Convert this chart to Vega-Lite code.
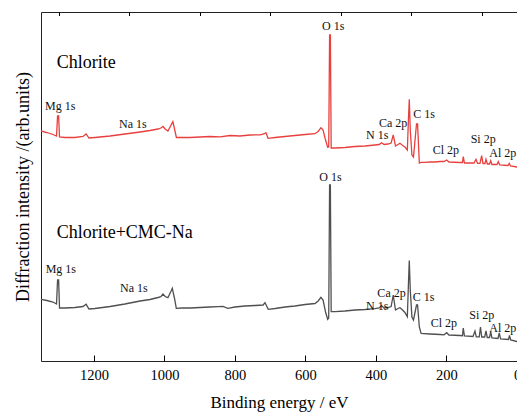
{
  "$schema": "https://vega.github.io/schema/vega-lite/v6.json",
  "autosize": {"type": "none"},
  "width": 476,
  "height": 349,
  "padding": {"left": 41, "top": 12, "right": 0, "bottom": 51},
  "background": "white",
  "config": {
    "view": {"stroke": "#222222", "strokeWidth": 1},
    "font": "Liberation Serif",
    "axis": {"grid": false, "domain": false, "labelFont": "Liberation Serif", "titleFont": "Liberation Serif", "titleFontWeight": "normal", "labelColor": "#000", "titleColor": "#000", "tickColor": "#000", "tickWidth": 1}
  },
  "datasets": {
    "spectra": [
      {"sample": "Chlorite", "energy": 1350, "intensity": 230},
      {"sample": "Chlorite", "energy": 1333, "intensity": 228.5},
      {"sample": "Chlorite", "energy": 1316, "intensity": 226.5},
      {"sample": "Chlorite", "energy": 1306, "intensity": 225},
      {"sample": "Chlorite", "energy": 1303, "intensity": 245},
      {"sample": "Chlorite", "energy": 1300, "intensity": 245},
      {"sample": "Chlorite", "energy": 1297.5, "intensity": 224},
      {"sample": "Chlorite", "energy": 1282, "intensity": 223.5},
      {"sample": "Chlorite", "energy": 1254, "intensity": 223.5},
      {"sample": "Chlorite", "energy": 1231, "intensity": 224.5},
      {"sample": "Chlorite", "energy": 1222, "intensity": 227},
      {"sample": "Chlorite", "energy": 1214, "intensity": 223},
      {"sample": "Chlorite", "energy": 1197, "intensity": 223.5},
      {"sample": "Chlorite", "energy": 1154, "intensity": 225},
      {"sample": "Chlorite", "energy": 1112, "intensity": 227},
      {"sample": "Chlorite", "energy": 1069, "intensity": 229},
      {"sample": "Chlorite", "energy": 1041, "intensity": 230.5},
      {"sample": "Chlorite", "energy": 1018, "intensity": 232},
      {"sample": "Chlorite", "energy": 1010, "intensity": 233},
      {"sample": "Chlorite", "energy": 1004, "intensity": 234.5},
      {"sample": "Chlorite", "energy": 998, "intensity": 232},
      {"sample": "Chlorite", "energy": 990, "intensity": 230},
      {"sample": "Chlorite", "energy": 981, "intensity": 236},
      {"sample": "Chlorite", "energy": 976, "intensity": 239.3},
      {"sample": "Chlorite", "energy": 970, "intensity": 230},
      {"sample": "Chlorite", "energy": 966, "intensity": 223.5},
      {"sample": "Chlorite", "energy": 950, "intensity": 223.5},
      {"sample": "Chlorite", "energy": 927, "intensity": 223.5},
      {"sample": "Chlorite", "energy": 899, "intensity": 224},
      {"sample": "Chlorite", "energy": 871, "intensity": 224.5},
      {"sample": "Chlorite", "energy": 842, "intensity": 224.2},
      {"sample": "Chlorite", "energy": 814, "intensity": 225.5},
      {"sample": "Chlorite", "energy": 786, "intensity": 225},
      {"sample": "Chlorite", "energy": 757, "intensity": 226},
      {"sample": "Chlorite", "energy": 729, "intensity": 226.2},
      {"sample": "Chlorite", "energy": 718, "intensity": 227},
      {"sample": "Chlorite", "energy": 712, "intensity": 228.3},
      {"sample": "Chlorite", "energy": 706, "intensity": 222.7},
      {"sample": "Chlorite", "energy": 686, "intensity": 223.5},
      {"sample": "Chlorite", "energy": 658, "intensity": 224.5},
      {"sample": "Chlorite", "energy": 630, "intensity": 225.5},
      {"sample": "Chlorite", "energy": 601, "intensity": 226.5},
      {"sample": "Chlorite", "energy": 573, "intensity": 227.3},
      {"sample": "Chlorite", "energy": 564, "intensity": 229.5},
      {"sample": "Chlorite", "energy": 556, "intensity": 233.3},
      {"sample": "Chlorite", "energy": 550, "intensity": 231},
      {"sample": "Chlorite", "energy": 543, "intensity": 221},
      {"sample": "Chlorite", "energy": 537, "intensity": 213.7},
      {"sample": "Chlorite", "energy": 534, "intensity": 214},
      {"sample": "Chlorite", "energy": 531.5, "intensity": 326},
      {"sample": "Chlorite", "energy": 529.3, "intensity": 326},
      {"sample": "Chlorite", "energy": 527, "intensity": 213},
      {"sample": "Chlorite", "energy": 516, "intensity": 213},
      {"sample": "Chlorite", "energy": 488, "intensity": 213.5},
      {"sample": "Chlorite", "energy": 459.5, "intensity": 214.5},
      {"sample": "Chlorite", "energy": 431, "intensity": 215},
      {"sample": "Chlorite", "energy": 403, "intensity": 216},
      {"sample": "Chlorite", "energy": 391, "intensity": 216.5},
      {"sample": "Chlorite", "energy": 384, "intensity": 218.3},
      {"sample": "Chlorite", "energy": 377, "intensity": 216.5},
      {"sample": "Chlorite", "energy": 366, "intensity": 217},
      {"sample": "Chlorite", "energy": 357, "intensity": 218},
      {"sample": "Chlorite", "energy": 351, "intensity": 226},
      {"sample": "Chlorite", "energy": 344.6, "intensity": 215},
      {"sample": "Chlorite", "energy": 337.5, "intensity": 216.5},
      {"sample": "Chlorite", "energy": 332, "intensity": 217.7},
      {"sample": "Chlorite", "energy": 326, "intensity": 216},
      {"sample": "Chlorite", "energy": 318, "intensity": 214},
      {"sample": "Chlorite", "energy": 311, "intensity": 211},
      {"sample": "Chlorite", "energy": 308, "intensity": 241},
      {"sample": "Chlorite", "energy": 305.5, "intensity": 261.7},
      {"sample": "Chlorite", "energy": 302.7, "intensity": 231},
      {"sample": "Chlorite", "energy": 298, "intensity": 206},
      {"sample": "Chlorite", "energy": 293.6, "intensity": 204},
      {"sample": "Chlorite", "energy": 285, "intensity": 237},
      {"sample": "Chlorite", "energy": 282, "intensity": 237},
      {"sample": "Chlorite", "energy": 277, "intensity": 198},
      {"sample": "Chlorite", "energy": 272, "intensity": 198.7},
      {"sample": "Chlorite", "energy": 261, "intensity": 198.7},
      {"sample": "Chlorite", "energy": 247, "intensity": 199},
      {"sample": "Chlorite", "energy": 232.6, "intensity": 199},
      {"sample": "Chlorite", "energy": 218, "intensity": 199.5},
      {"sample": "Chlorite", "energy": 207, "intensity": 199.5},
      {"sample": "Chlorite", "energy": 199.4, "intensity": 201},
      {"sample": "Chlorite", "energy": 193, "intensity": 199},
      {"sample": "Chlorite", "energy": 161.7, "intensity": 198.5},
      {"sample": "Chlorite", "energy": 154.6, "intensity": 198.5},
      {"sample": "Chlorite", "energy": 152.4, "intensity": 204.3},
      {"sample": "Chlorite", "energy": 149, "intensity": 198},
      {"sample": "Chlorite", "energy": 127.7, "intensity": 198},
      {"sample": "Chlorite", "energy": 122, "intensity": 198},
      {"sample": "Chlorite", "energy": 116.3, "intensity": 201.7},
      {"sample": "Chlorite", "energy": 112, "intensity": 197.7},
      {"sample": "Chlorite", "energy": 105, "intensity": 197.7},
      {"sample": "Chlorite", "energy": 100.2, "intensity": 205.3},
      {"sample": "Chlorite", "energy": 96.5, "intensity": 197.5},
      {"sample": "Chlorite", "energy": 90.8, "intensity": 197.5},
      {"sample": "Chlorite", "energy": 88, "intensity": 201.7},
      {"sample": "Chlorite", "energy": 84, "intensity": 197},
      {"sample": "Chlorite", "energy": 78, "intensity": 197},
      {"sample": "Chlorite", "energy": 74.6, "intensity": 200.3},
      {"sample": "Chlorite", "energy": 71, "intensity": 196.5},
      {"sample": "Chlorite", "energy": 56.8, "intensity": 196.5},
      {"sample": "Chlorite", "energy": 53, "intensity": 199.3},
      {"sample": "Chlorite", "energy": 49, "intensity": 196},
      {"sample": "Chlorite", "energy": 25.6, "intensity": 195.5},
      {"sample": "Chlorite", "energy": 22, "intensity": 197.7},
      {"sample": "Chlorite", "energy": 18.5, "intensity": 195},
      {"sample": "Chlorite", "energy": 0, "intensity": 194},

      {"sample": "Chlorite+CMC-Na", "energy": 1350, "intensity": 61.7},
      {"sample": "Chlorite+CMC-Na", "energy": 1333, "intensity": 60.5},
      {"sample": "Chlorite+CMC-Na", "energy": 1316, "intensity": 59},
      {"sample": "Chlorite+CMC-Na", "energy": 1306, "intensity": 57},
      {"sample": "Chlorite+CMC-Na", "energy": 1303, "intensity": 81},
      {"sample": "Chlorite+CMC-Na", "energy": 1300, "intensity": 81},
      {"sample": "Chlorite+CMC-Na", "energy": 1297.5, "intensity": 53},
      {"sample": "Chlorite+CMC-Na", "energy": 1282, "intensity": 53},
      {"sample": "Chlorite+CMC-Na", "energy": 1254, "intensity": 53.5},
      {"sample": "Chlorite+CMC-Na", "energy": 1231, "intensity": 54.5},
      {"sample": "Chlorite+CMC-Na", "energy": 1222, "intensity": 56.7},
      {"sample": "Chlorite+CMC-Na", "energy": 1214, "intensity": 52},
      {"sample": "Chlorite+CMC-Na", "energy": 1197, "intensity": 52.5},
      {"sample": "Chlorite+CMC-Na", "energy": 1154, "intensity": 54.5},
      {"sample": "Chlorite+CMC-Na", "energy": 1112, "intensity": 57},
      {"sample": "Chlorite+CMC-Na", "energy": 1069, "intensity": 60},
      {"sample": "Chlorite+CMC-Na", "energy": 1041, "intensity": 61.5},
      {"sample": "Chlorite+CMC-Na", "energy": 1018, "intensity": 63.5},
      {"sample": "Chlorite+CMC-Na", "energy": 1010, "intensity": 64.3},
      {"sample": "Chlorite+CMC-Na", "energy": 1004, "intensity": 67},
      {"sample": "Chlorite+CMC-Na", "energy": 998, "intensity": 64.5},
      {"sample": "Chlorite+CMC-Na", "energy": 990, "intensity": 63.3},
      {"sample": "Chlorite+CMC-Na", "energy": 981, "intensity": 70},
      {"sample": "Chlorite+CMC-Na", "energy": 977.6, "intensity": 72.7},
      {"sample": "Chlorite+CMC-Na", "energy": 971, "intensity": 62},
      {"sample": "Chlorite+CMC-Na", "energy": 966.3, "intensity": 52.7},
      {"sample": "Chlorite+CMC-Na", "energy": 950, "intensity": 53},
      {"sample": "Chlorite+CMC-Na", "energy": 927, "intensity": 53},
      {"sample": "Chlorite+CMC-Na", "energy": 899, "intensity": 53.5},
      {"sample": "Chlorite+CMC-Na", "energy": 871, "intensity": 54},
      {"sample": "Chlorite+CMC-Na", "energy": 848, "intensity": 54.3},
      {"sample": "Chlorite+CMC-Na", "energy": 834, "intensity": 54.5},
      {"sample": "Chlorite+CMC-Na", "energy": 820, "intensity": 52.7},
      {"sample": "Chlorite+CMC-Na", "energy": 800, "intensity": 54},
      {"sample": "Chlorite+CMC-Na", "energy": 771.5, "intensity": 55},
      {"sample": "Chlorite+CMC-Na", "energy": 743, "intensity": 55.5},
      {"sample": "Chlorite+CMC-Na", "energy": 720, "intensity": 56},
      {"sample": "Chlorite+CMC-Na", "energy": 714.7, "intensity": 58.3},
      {"sample": "Chlorite+CMC-Na", "energy": 705.4, "intensity": 51.7},
      {"sample": "Chlorite+CMC-Na", "energy": 686, "intensity": 52.5},
      {"sample": "Chlorite+CMC-Na", "energy": 658, "intensity": 54},
      {"sample": "Chlorite+CMC-Na", "energy": 630, "intensity": 55},
      {"sample": "Chlorite+CMC-Na", "energy": 601, "intensity": 56.5},
      {"sample": "Chlorite+CMC-Na", "energy": 573, "intensity": 57.5},
      {"sample": "Chlorite+CMC-Na", "energy": 564, "intensity": 60},
      {"sample": "Chlorite+CMC-Na", "energy": 556, "intensity": 63.7},
      {"sample": "Chlorite+CMC-Na", "energy": 550, "intensity": 61},
      {"sample": "Chlorite+CMC-Na", "energy": 543, "intensity": 49},
      {"sample": "Chlorite+CMC-Na", "energy": 537, "intensity": 41.7},
      {"sample": "Chlorite+CMC-Na", "energy": 534, "intensity": 43},
      {"sample": "Chlorite+CMC-Na", "energy": 531.5, "intensity": 176},
      {"sample": "Chlorite+CMC-Na", "energy": 529.3, "intensity": 176},
      {"sample": "Chlorite+CMC-Na", "energy": 527, "intensity": 49.3},
      {"sample": "Chlorite+CMC-Na", "energy": 516, "intensity": 49.3},
      {"sample": "Chlorite+CMC-Na", "energy": 488, "intensity": 50},
      {"sample": "Chlorite+CMC-Na", "energy": 459.5, "intensity": 51},
      {"sample": "Chlorite+CMC-Na", "energy": 431, "intensity": 51.5},
      {"sample": "Chlorite+CMC-Na", "energy": 403, "intensity": 52.3},
      {"sample": "Chlorite+CMC-Na", "energy": 391, "intensity": 53},
      {"sample": "Chlorite+CMC-Na", "energy": 384, "intensity": 55.3},
      {"sample": "Chlorite+CMC-Na", "energy": 377, "intensity": 53},
      {"sample": "Chlorite+CMC-Na", "energy": 366, "intensity": 53.5},
      {"sample": "Chlorite+CMC-Na", "energy": 357, "intensity": 54.5},
      {"sample": "Chlorite+CMC-Na", "energy": 351, "intensity": 66},
      {"sample": "Chlorite+CMC-Na", "energy": 344.6, "intensity": 51},
      {"sample": "Chlorite+CMC-Na", "energy": 337.5, "intensity": 52.5},
      {"sample": "Chlorite+CMC-Na", "energy": 332, "intensity": 53.3},
      {"sample": "Chlorite+CMC-Na", "energy": 326, "intensity": 51.5},
      {"sample": "Chlorite+CMC-Na", "energy": 318, "intensity": 48.5},
      {"sample": "Chlorite+CMC-Na", "energy": 311, "intensity": 44.3},
      {"sample": "Chlorite+CMC-Na", "energy": 308, "intensity": 76},
      {"sample": "Chlorite+CMC-Na", "energy": 305.5, "intensity": 100.5},
      {"sample": "Chlorite+CMC-Na", "energy": 302.7, "intensity": 71},
      {"sample": "Chlorite+CMC-Na", "energy": 298, "intensity": 44},
      {"sample": "Chlorite+CMC-Na", "energy": 293.6, "intensity": 41},
      {"sample": "Chlorite+CMC-Na", "energy": 285, "intensity": 56},
      {"sample": "Chlorite+CMC-Na", "energy": 282, "intensity": 56},
      {"sample": "Chlorite+CMC-Na", "energy": 277, "intensity": 34},
      {"sample": "Chlorite+CMC-Na", "energy": 272, "intensity": 27.5},
      {"sample": "Chlorite+CMC-Na", "energy": 247, "intensity": 27},
      {"sample": "Chlorite+CMC-Na", "energy": 218, "intensity": 26.5},
      {"sample": "Chlorite+CMC-Na", "energy": 207, "intensity": 26.2},
      {"sample": "Chlorite+CMC-Na", "energy": 199.4, "intensity": 28.3},
      {"sample": "Chlorite+CMC-Na", "energy": 193, "intensity": 26},
      {"sample": "Chlorite+CMC-Na", "energy": 161.7, "intensity": 25.5},
      {"sample": "Chlorite+CMC-Na", "energy": 154.6, "intensity": 25.3},
      {"sample": "Chlorite+CMC-Na", "energy": 152.4, "intensity": 33},
      {"sample": "Chlorite+CMC-Na", "energy": 149, "intensity": 25},
      {"sample": "Chlorite+CMC-Na", "energy": 124.8, "intensity": 24.5},
      {"sample": "Chlorite+CMC-Na", "energy": 119.2, "intensity": 30},
      {"sample": "Chlorite+CMC-Na", "energy": 115.5, "intensity": 24.2},
      {"sample": "Chlorite+CMC-Na", "energy": 107, "intensity": 24.2},
      {"sample": "Chlorite+CMC-Na", "energy": 103.6, "intensity": 34},
      {"sample": "Chlorite+CMC-Na", "energy": 100, "intensity": 24},
      {"sample": "Chlorite+CMC-Na", "energy": 91.7, "intensity": 24},
      {"sample": "Chlorite+CMC-Na", "energy": 88, "intensity": 30},
      {"sample": "Chlorite+CMC-Na", "energy": 84.3, "intensity": 23.5},
      {"sample": "Chlorite+CMC-Na", "energy": 78, "intensity": 23.5},
      {"sample": "Chlorite+CMC-Na", "energy": 74.6, "intensity": 29},
      {"sample": "Chlorite+CMC-Na", "energy": 71, "intensity": 23},
      {"sample": "Chlorite+CMC-Na", "energy": 54, "intensity": 22.5},
      {"sample": "Chlorite+CMC-Na", "energy": 50.3, "intensity": 28},
      {"sample": "Chlorite+CMC-Na", "energy": 46.6, "intensity": 22},
      {"sample": "Chlorite+CMC-Na", "energy": 24.2, "intensity": 21.5},
      {"sample": "Chlorite+CMC-Na", "energy": 21.3, "intensity": 25.5},
      {"sample": "Chlorite+CMC-Na", "energy": 18, "intensity": 21},
      {"sample": "Chlorite+CMC-Na", "energy": 0, "intensity": 19.5}
    ],
    "peaks": [
      {"label": "Mg 1s", "energy": 1338.7, "intensity": 251},
      {"label": "Na 1s", "energy": 1128.8, "intensity": 233.3},
      {"label": "O 1s", "energy": 553, "intensity": 331.3},
      {"label": "N 1s", "energy": 428, "intensity": 222},
      {"label": "Ca 2p", "energy": 391.4, "intensity": 234.3},
      {"label": "C 1s", "energy": 294, "intensity": 242.7},
      {"label": "Cl 2p", "energy": 239, "intensity": 206.7},
      {"label": "Si 2p", "energy": 131.4, "intensity": 217.7},
      {"label": "Al 2p", "energy": 78.6, "intensity": 204.3},
      {"label": "Mg 1s", "energy": 1336.7, "intensity": 88.3},
      {"label": "Na 1s", "energy": 1126, "intensity": 69.3},
      {"label": "O 1s", "energy": 560.7, "intensity": 180},
      {"label": "N 1s", "energy": 428, "intensity": 51},
      {"label": "Ca 2p", "energy": 396, "intensity": 64},
      {"label": "C 1s", "energy": 296, "intensity": 60.3},
      {"label": "Cl 2p", "energy": 244.8, "intensity": 33.7},
      {"label": "Si 2p", "energy": 135.3, "intensity": 41.7},
      {"label": "Al 2p", "energy": 78.6, "intensity": 29.3}
    ],
    "names": [
      {"label": "Chlorite", "energy": 1305.5, "intensity": 293.3},
      {"label": "Chlorite+CMC-Na", "energy": 1305.5, "intensity": 123.3}
    ]
  },
  "resolve": {"axis": {"x": "independent", "y": "independent"}},
  "layer": [
    {
      "data": {"name": "spectra"},
      "mark": {"type": "line", "strokeWidth": 1.3, "interpolate": "linear"},
      "encoding": {
        "x": {"field": "energy", "type": "quantitative", "scale": {"domain": [1350, 0], "nice": false, "zero": false},
              "axis": {"title": "Binding energy / eV", "values": [0, 200, 400, 600, 800, 1000, 1200], "format": "d", "tickSize": -6, "labelPadding": 13, "labelFontSize": 14.5, "titleFontSize": 17, "titlePadding": 13, "labelFlush": false}},
        "y": {"field": "intensity", "type": "quantitative", "scale": {"domain": [0, 349], "nice": false, "zero": false},
              "axis": {"title": "Diffraction intensity /(arb.units)", "ticks": false, "labels": false, "titleFontSize": 18, "titlePadding": 9}},
        "color": {"field": "sample", "type": "nominal", "scale": {"domain": ["Chlorite", "Chlorite+CMC-Na"], "range": ["#e8403e", "#505050"]}, "legend": null}
      }
    },
    {
      "data": {"name": "peaks"},
      "mark": {"type": "text", "align": "left", "baseline": "alphabetic", "fontSize": 12, "font": "Liberation Serif", "color": "#111"},
      "encoding": {
        "x": {"field": "energy", "type": "quantitative", "axis": {"values": [100, 300, 500, 700, 900, 1100, 1300], "tickSize": -3.5, "labels": false, "title": null, "domain": false}},
        "y": {"field": "intensity", "type": "quantitative", "axis": null},
        "text": {"field": "label"}
      }
    },
    {
      "data": {"name": "names"},
      "mark": {"type": "text", "align": "left", "baseline": "alphabetic", "fontSize": 18, "font": "Liberation Serif", "color": "#000"},
      "encoding": {
        "x": {"field": "energy", "type": "quantitative", "axis": null},
        "y": {"field": "intensity", "type": "quantitative", "axis": null},
        "text": {"field": "label"}
      }
    }
  ]
}
